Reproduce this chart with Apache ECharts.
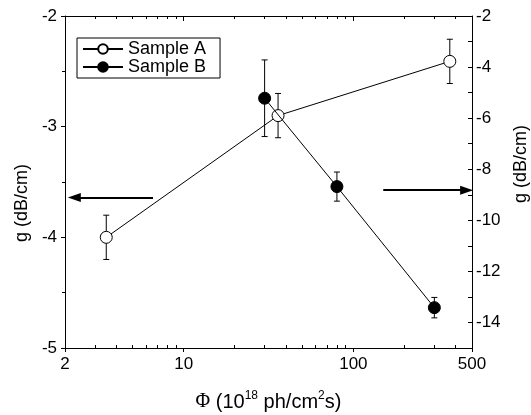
<!DOCTYPE html>
<html>
<head>
<meta charset="utf-8">
<script src="https://cdn.jsdelivr.net/npm/echarts@6/dist/echarts.min.js"></script>
<style>html,body{margin:0;padding:0;background:#fff}#c{width:531px;height:415px}</style>
</head>
<body>
<div id="c"></div>
<script>
// ---- data ----
const seriesNames = ['Sample A', 'Sample B'];
const fluxA = [3.5, 36, 370];
const gainA = [-4.0, -2.9, -2.41];
const errA = [0.2, 0.2, 0.2];
const fluxB = [30, 80, 300];
const gainB = [-5.22, -8.68, -13.42];
const errB = [1.5, 0.57, 0.4];
const xMajorTicks = [2, 10, 100, 500];
const xMinorTicks = [3, 4, 5, 6, 7, 8, 9, 20, 30, 40, 50, 60, 70, 80, 90, 200, 300, 400];
const yRightLabels = [-2, -4, -6, -8, -10, -12, -14];
const yRightTicks = [-15, -14, -13, -12, -11, -10, -9, -8, -7, -6, -5, -4, -3, -2];
const arrowLeft = [[6.6, -3.64], [2.27, -3.64]];
const arrowRight = [[150, -8.82], [465, -8.82]];

const FONT = 'Liberation Sans, Arial, Helvetica, sans-serif';
const black = '#000';

function zip(xs, ys, es) { return xs.map((x, i) => es ? [x, ys[i], es[i]] : [x, ys[i]]); }

function errRender(params, api) {
  const x = api.value(0), y = api.value(1), e = api.value(2);
  const top = api.coord([x, y + e]);
  const bot = api.coord([x, y - e]);
  const w = 3;
  const st = { stroke: black, lineWidth: 1 };
  return {
    type: 'group',
    children: [
      { type: 'line', shape: { x1: top[0], y1: top[1], x2: bot[0], y2: bot[1] }, style: st },
      { type: 'line', shape: { x1: top[0] - w, y1: top[1], x2: top[0] + w, y2: top[1] }, style: st },
      { type: 'line', shape: { x1: bot[0] - w, y1: bot[1], x2: bot[0] + w, y2: bot[1] }, style: st }
    ]
  };
}

const baseX = { type: 'log', logBase: 10, min: 2, max: 500, splitLine: { show: false } };
const axisLineStyle = { show: true, lineStyle: { color: black, width: 1 } };

const option = {
  animation: false,
  backgroundColor: '#fff',
  textStyle: { fontFamily: FONT, color: black },
  grid: { left: 65, right: 59, top: 16, bottom: 67, containLabel: false, outerBoundsMode: 'none' },
  legend: {
    data: seriesNames,
    orient: 'vertical',
    left: 77, top: 38,
    padding: [2, 14, 2, 5],
    itemGap: 0,
    itemWidth: 40, itemHeight: 12,
    borderColor: black, borderWidth: 1, borderRadius: 0,
    backgroundColor: '#fff',
    textStyle: { fontFamily: FONT, fontSize: 18, color: black }
  },
  xAxis: [
    Object.assign({}, baseX, {
      position: 'bottom',
      axisLine: axisLineStyle,
      axisTick: { show: true, inside: false, length: 4, customValues: xMajorTicks, lineStyle: { color: black } },
      axisLabel: { show: true, customValues: xMajorTicks, fontSize: 17, color: black, fontFamily: FONT, margin: 8 },
      name: '{phi|Φ} (10{sup|18} ph/cm{sup|2}s)',
      nameLocation: 'middle', nameGap: 42,
      nameTextStyle: {
        fontSize: 20, color: black, fontFamily: FONT,
        rich: {
          phi: { fontFamily: 'Liberation Serif, DejaVu Serif, serif', fontSize: 20, color: black },
          sup: { fontSize: 12, color: black, fontFamily: FONT, padding: [0, 0, 12, 0] }
        }
      }
    }),
    Object.assign({}, baseX, {
      position: 'bottom',
      axisLine: { show: false },
      axisTick: { show: true, inside: true, length: 3, customValues: xMinorTicks, lineStyle: { color: black } },
      axisLabel: { show: false }
    }),
    Object.assign({}, baseX, {
      position: 'top',
      axisLine: axisLineStyle,
      axisTick: { show: true, inside: true, length: 5, customValues: xMajorTicks, lineStyle: { color: black } },
      axisLabel: { show: false }
    }),
    Object.assign({}, baseX, {
      position: 'top',
      axisLine: { show: false },
      axisTick: { show: true, inside: true, length: 3, customValues: xMinorTicks, lineStyle: { color: black } },
      axisLabel: { show: false }
    })
  ],
  yAxis: [
    {
      type: 'value', position: 'left', min: -5, max: -2, interval: 1,
      splitLine: { show: false },
      axisLine: axisLineStyle,
      axisTick: { show: true, inside: false, length: 4, lineStyle: { color: black } },
      minorTick: { show: true, splitNumber: 2, length: 3, lineStyle: { color: black } },
      axisLabel: { fontSize: 17, color: black, fontFamily: FONT, margin: 8 },
      name: 'g (dB/cm)', nameLocation: 'middle', nameGap: 33, nameRotate: 90,
      nameTextStyle: { fontSize: 18, color: black, fontFamily: FONT, padding: [0, 42, 0, 0] }
    },
    {
      type: 'value', position: 'right', min: -15, max: -2,
      splitLine: { show: false },
      axisLine: axisLineStyle,
      axisTick: { show: true, inside: true, length: 4, customValues: yRightTicks, lineStyle: { color: black } },
      axisLabel: { fontSize: 17, color: black, fontFamily: FONT, margin: 4, customValues: yRightLabels },
      name: 'g (dB/cm)', nameLocation: 'middle', nameGap: 40, nameRotate: 90,
      nameTextStyle: { fontSize: 18, color: black, fontFamily: FONT, padding: [0, 0, 0, 36] }
    }
  ],
  series: [
    {
      name: 'errA', type: 'custom', xAxisIndex: 0, yAxisIndex: 0, z: 2,
      renderItem: errRender, data: zip(fluxA, gainA, errA), silent: true
    },
    {
      name: 'Sample A', type: 'line', xAxisIndex: 0, yAxisIndex: 0, z: 3,
      data: zip(fluxA, gainA),
      symbol: 'circle', symbolSize: 12, showSymbol: true,
      lineStyle: { color: black, width: 1 },
      itemStyle: { color: '#fff', borderColor: black, borderWidth: 1 },
      markLine: {
        silent: true, symbol: ['none', 'triangle'], symbolSize: [9, 13],
        label: { show: false },
        lineStyle: { color: black, width: 2, type: 'solid' },
        data: [[{ coord: arrowLeft[0] }, { coord: arrowLeft[1] }]]
      }
    },
    {
      name: 'errB', type: 'custom', xAxisIndex: 0, yAxisIndex: 1, z: 4,
      renderItem: errRender, data: zip(fluxB, gainB, errB), silent: true
    },
    {
      name: 'Sample B', type: 'line', xAxisIndex: 0, yAxisIndex: 1, z: 5,
      data: zip(fluxB, gainB),
      symbol: 'circle', symbolSize: 12, showSymbol: true,
      lineStyle: { color: black, width: 1 },
      itemStyle: { color: black, borderColor: black, borderWidth: 1 },
      markLine: {
        silent: true, symbol: ['none', 'triangle'], symbolSize: [9, 13],
        label: { show: false },
        lineStyle: { color: black, width: 2, type: 'solid' },
        data: [[{ coord: arrowRight[0] }, { coord: arrowRight[1] }]]
      }
    }
  ]
};

const chart = echarts.init(document.getElementById('c'), null, { renderer: 'canvas' });
chart.setOption(option);
</script>
</body>
</html>
